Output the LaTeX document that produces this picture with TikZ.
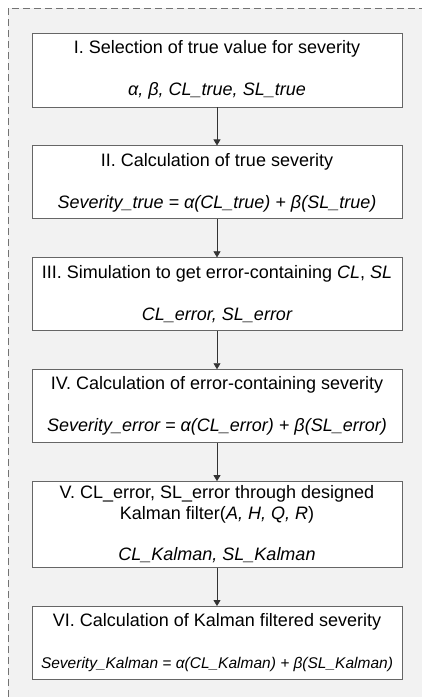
\documentclass[tikz,border=0pt]{standalone}
\usepackage{fontspec}
\setmainfont{Liberation Sans}
\usetikzlibrary{positioning,arrows.meta}
\tikzset{>={Triangle[length=6pt,width=7pt]}}
\definecolor{panel}{HTML}{F2F2F2}
\tikzset{
  stage/.style={draw=black!60,line width=.9pt,fill=white,minimum width=370pt,
    minimum height=73pt,align=center,inner sep=3pt,
    font=\fontsize{18}{21}\selectfont},
  flow/.style={->,draw=black!80,line width=.7pt}
}

\begin{document}
\begin{tikzpicture}[x=1pt,y=1pt,node distance=38pt]
\useasboundingbox (0,0) rectangle (422,-697);
\fill[panel] (8,-8) rectangle (422,-697);
\draw[black!55,line width=.9pt,dash pattern=on 7pt off 4pt] (8,-697) -- (8,-8) -- (422,-8);
% stages
\node[stage,minimum height=74pt] (s1) at (217,-70) {I. Selection of true value for severity\\[21pt]
  {\itshape α, β, CL\_true, SL\_true}};
\node[stage,below=of s1] (s2) {II. Calculation of true severity\\[21pt]
  {\itshape Severity\_true = α(CL\_true) + β(SL\_true)}};
\node[stage,below=of s2] (s3) {III. Simulation to get error-containing \textit{CL}, \textit{SL}\\[21pt]
  {\itshape CL\_error, SL\_error}};
\node[stage,below=of s3] (s4) {IV. Calculation of error-containing severity\\[21pt]
  {\itshape Severity\_error = α(CL\_error) + β(SL\_error)}};
\node[stage,minimum height=86pt,below=of s4] (s5) {V. CL\_error, SL\_error through designed\\
  Kalman filter(\textit{A, H, Q, R})\\[20pt]
  {\itshape CL\_Kalman, SL\_Kalman}};
\node[stage,below=of s5] (s6) {VI. Calculation of Kalman filtered severity\\[21pt]
  {\fontsize{15.5}{21}\selectfont\itshape Severity\_Kalman = α(CL\_Kalman) + β(SL\_Kalman)}};
% arrows
\draw[flow] (s1) -- (s2);
\draw[flow] (s2) -- (s3);
\draw[flow] (s3) -- (s4);
\draw[flow] (s4) -- (s5);
\draw[flow] (s5) -- (s6);
\end{tikzpicture}
\end{document}
